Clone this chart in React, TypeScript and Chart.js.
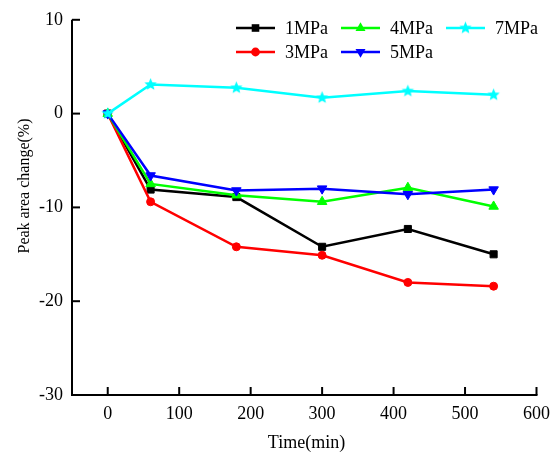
import React, { useEffect, useRef } from 'react';
import { Chart, registerables } from 'chart.js';

Chart.register(...registerables);

const times = [0, 60, 180, 300, 420, 540];
const p1MPa = [0, -8.1, -8.9, -14.2, -12.3, -15.0];
const p3MPa = [0, -9.4, -14.2, -15.1, -18.0, -18.4];
const p4MPa = [0, -7.5, -8.7, -9.4, -7.9, -9.9];
const p5MPa = [0, -6.6, -8.2, -8.0, -8.6, -8.1];
const p7MPa = [0, 3.1, 2.75, 1.7, 2.4, 2.0];
const seriesLabels = ['1MPa', '3MPa', '4MPa', '5MPa', '7MPa'];
const xTickValues = [0, 100, 200, 300, 400, 500, 600];
const yTickValues = [-30, -20, -10, 0, 10];
const xTitle = 'Time(min)';
const yTitle = 'Peak area change(%)';

const FONT = "'Liberation Serif', 'Times New Roman', serif";

function makeStar(color: string, r: number) {
  const c = document.createElement('canvas');
  const s = Math.ceil(r * 2 + 2);
  c.width = s;
  c.height = s;
  const ctx = c.getContext('2d')!;
  const cx = s / 2, cy = s / 2;
  ctx.beginPath();
  for (let i = 0; i < 10; i++) {
    const rad = i % 2 === 0 ? r : r * 0.45;
    const a = -Math.PI / 2 + (i * Math.PI) / 5;
    const x = cx + rad * Math.cos(a);
    const y = cy + rad * Math.sin(a);
    if (i === 0) ctx.moveTo(x, y); else ctx.lineTo(x, y);
  }
  ctx.closePath();
  ctx.fillStyle = color;
  ctx.fill();
  return c;
}

function drawMarker(ctx: CanvasRenderingContext2D, kind: string, x: number, y: number, color: string, star?: HTMLCanvasElement) {
  ctx.save();
  ctx.fillStyle = color;
  ctx.strokeStyle = color;
  ctx.lineWidth = 1;
  ctx.beginPath();
  if (kind === 'rect') {
    ctx.rect(x - 3.8, y - 3.8, 7.6, 7.6);
    ctx.fill();
  } else if (kind === 'circle') {
    ctx.arc(x, y, 4.4, 0, Math.PI * 2);
    ctx.fill();
  } else if (kind === 'tri' || kind === 'trid') {
    const r = 5.8;
    const d = kind === 'tri' ? 1 : -1;
    ctx.moveTo(x, y - d * r);
    ctx.lineTo(x + r * 0.866, y + d * r * 0.5);
    ctx.lineTo(x - r * 0.866, y + d * r * 0.5);
    ctx.closePath();
    ctx.fill();
  } else if (kind === 'star' && star) {
    ctx.drawImage(star, x - star.width / 2, y - star.height / 2);
  }
  ctx.restore();
}

export default function App() {
  const ref = useRef<HTMLCanvasElement | null>(null);

  useEffect(() => {
    document.body.style.margin = '0';
    const canvas = ref.current!;
    const star = makeStar('#00ffff', 6.5);
    const colors = ['#000000', '#ff0000', '#00ff00', '#0000ff', '#00ffff'];
    const values = [p1MPa, p3MPa, p4MPa, p5MPa, p7MPa];
    const styles: any[] = ['rect', 'circle', 'triangle', 'triangle', star];
    const radii = [5, 4, 5.5, 5.5, 6];
    const rotations = [0, 0, 0, 180, 0];
    const markerKinds = ['rect', 'circle', 'tri', 'trid', 'star'];

    const datasets = values.map((v, i) => ({
      label: seriesLabels[i],
      data: times.map((t, j) => ({ x: t, y: v[j] })),
      borderColor: colors[i],
      backgroundColor: colors[i],
      borderWidth: 2.5,
      pointStyle: styles[i],
      pointRadius: radii[i],
      pointRotation: rotations[i],
      pointBorderWidth: 1,
      pointBorderColor: colors[i],
      pointBackgroundColor: colors[i],
      order: 5 - i,
      tension: 0,
    }));

    const axesPlugin = {
      id: 'customAxes',
      afterDraw(chart: any) {
        const { ctx, chartArea } = chart;
        const xs = chart.scales.x;
        const ys = chart.scales.y;
        ctx.save();
        ctx.strokeStyle = '#000';
        ctx.lineWidth = 2;
        ctx.lineCap = 'butt';
        ctx.beginPath();
        ctx.moveTo(chartArea.left, chartArea.top);
        ctx.lineTo(chartArea.left, chartArea.bottom + 1);
        ctx.stroke();
        ctx.beginPath();
        ctx.moveTo(chartArea.left - 1, chartArea.bottom);
        ctx.lineTo(chartArea.right + 1, chartArea.bottom);
        ctx.stroke();
        yTickValues.forEach((v) => {
          const py = ys.getPixelForValue(v);
          ctx.beginPath();
          ctx.moveTo(chartArea.left, py);
          ctx.lineTo(chartArea.left + 8, py);
          ctx.stroke();
        });
        xTickValues.forEach((v) => {
          const px = xs.getPixelForValue(v);
          ctx.beginPath();
          ctx.moveTo(px, chartArea.bottom);
          ctx.lineTo(px, chartArea.bottom - 8);
          ctx.stroke();
        });
        ctx.fillStyle = '#000';
        ctx.font = `18px ${FONT}`;
        ctx.textAlign = 'center';
        ctx.textBaseline = 'middle';
        ctx.fillText(xTitle, 306.5, 443);
        ctx.save();
        ctx.font = `16px ${FONT}`;
        ctx.translate(25, 186);
        ctx.rotate(-Math.PI / 2);
        ctx.fillText(yTitle, 0, 0);
        ctx.restore();
        const legendPos = [
          [236, 28], [236, 52], [341, 28], [341, 52], [446, 28],
        ];
        legendPos.forEach(([lx, ly], i) => {
          ctx.strokeStyle = colors[i];
          ctx.lineWidth = 2.5;
          ctx.beginPath();
          ctx.moveTo(lx, ly);
          ctx.lineTo(lx + 39, ly);
          ctx.stroke();
          drawMarker(ctx, markerKinds[i], lx + 19.5, ly, colors[i], star);
          ctx.fillStyle = '#000';
          ctx.font = `18px ${FONT}`;
          ctx.textAlign = 'left';
          ctx.textBaseline = 'middle';
          ctx.fillText(seriesLabels[i], lx + 49, ly + 1);
        });
        ctx.restore();
      },
    };

    const chart = new Chart(canvas, {
      type: 'line',
      data: { datasets },
      options: {
        animation: false,
        responsive: false,
        maintainAspectRatio: false,
        devicePixelRatio: 1,
        layout: { padding: { top: 19, right: 18.5, left: 0, bottom: 0 } },
        plugins: { legend: { display: false }, tooltip: { enabled: false } },
        scales: {
          x: {
            type: 'linear',
            min: -50,
            max: 600,
            grid: { display: false, drawTicks: false },
            border: { display: false },
            ticks: { color: '#000', font: { family: FONT, size: 18 }, padding: 8, maxRotation: 0 },
            afterBuildTicks: (s: any) => { s.ticks = xTickValues.map((v) => ({ value: v })); },
            afterFit: (s: any) => { s.height = 60; },
          },
          y: {
            type: 'linear',
            min: -30,
            max: 10,
            grid: { display: false, drawTicks: false },
            border: { display: false },
            ticks: { color: '#000', font: { family: FONT, size: 18 }, padding: 9 },
            afterBuildTicks: (s: any) => { s.ticks = yTickValues.map((v) => ({ value: v })); },
            afterFit: (s: any) => { s.width = 72; },
          },
        },
      },
      plugins: [axesPlugin],
    });
    return () => chart.destroy();
  }, []);

  return (
    <div style={{ position: 'absolute', left: 0, top: 0, width: 558, height: 455 }}>
      <canvas ref={ref} width={558} height={455} style={{ width: 558, height: 455 }} />
    </div>
  );
}
